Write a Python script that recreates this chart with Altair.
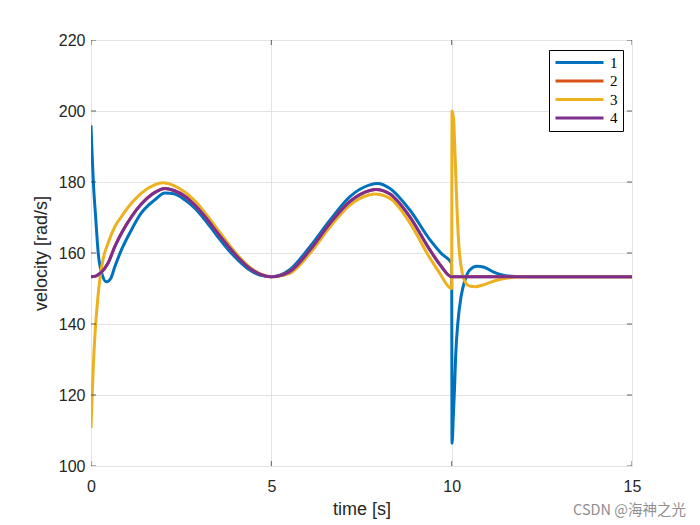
import altair as alt
import pandas as pd

# ---------------- data ----------------
series_names = ["1", "2", "3", "4"]
series_colors = ["#0072BD", "#D95319", "#EDB120", "#7E2F8E"]

t1 = [0, 0.03, 0.065, 0.13, 0.2, 0.3, 0.43, 0.55, 0.66, 0.84, 1.12, 1.39, 1.76, 2.05,
      2.3, 2.6, 2.9, 3.2, 3.5, 3.8, 4.1, 4.4, 4.7, 5.0, 5.5, 6.07, 6.63, 7.18, 7.73,
      7.95, 8.29, 8.84, 9.4, 9.7, 10.0, 10.01, 10.05, 10.08, 10.11, 10.17, 10.26,
      10.37, 10.5, 10.7, 10.9, 11.15, 11.5, 12.0, 13.0, 15.0]
v1 = [196, 188, 180, 170, 160, 154.2, 151.9, 152.9, 156.1, 160.8, 166.5, 171.2, 174.9, 176.9,
      176.7, 175.0, 172.4, 168.8, 164.8, 161.0, 157.8, 155.2, 153.7, 153.3, 155.2, 161.8,
      169.3, 175.9, 179.2, 179.6, 178.2, 172.1, 163.7, 160.0, 157.0, 106.4, 115.0, 122.0,
      130.8, 140.2, 147.7, 152.4, 155.2, 156.3, 156.0, 154.7, 153.6, 153.3, 153.3, 153.3]

t2 = [0, 0.13, 0.26, 0.47, 0.66, 0.84, 1.12, 1.39, 1.76, 2.05, 2.3, 2.6, 2.9, 3.2, 3.5,
      3.8, 4.1, 4.4, 4.7, 5.0, 5.5, 6.07, 6.63, 7.18, 7.73, 7.9, 8.29, 8.84, 9.4, 9.7,
      10.0, 11.0, 12.0, 13.0, 14.0, 15.0]
v2 = [153.3, 153.5, 154.3, 157.1, 161.8, 165.5, 170.2, 173.7, 177.0, 178.2, 177.6, 176.0,
      173.3, 169.8, 165.8, 162.0, 158.5, 155.7, 154.0, 153.3, 154.7, 160.8, 168.4, 174.5,
      177.6, 177.9, 176.6, 170.2, 160.8, 156.4, 153.3, 153.3, 153.3, 153.3, 153.3, 153.3]

t3 = [0, 0.03, 0.064, 0.11, 0.157, 0.2, 0.25, 0.34, 0.47, 0.66, 0.84, 1.12, 1.39, 1.76,
      2.0, 2.3, 2.6, 2.9, 3.2, 3.5, 3.8, 4.1, 4.4, 4.7, 5.0, 5.5, 6.07, 6.63, 7.18, 7.73,
      7.85, 8.29, 8.84, 9.4, 9.7, 9.85, 10.0, 10.01, 10.05, 10.1, 10.15, 10.2, 10.25,
      10.3, 10.4, 10.5, 10.65, 10.9, 11.2, 11.5, 12.0, 13.0, 15.0]
v3 = [110.7, 119.0, 128.0, 137.0, 143.5, 148.5, 153.0, 158.5, 162.7, 167.4, 170.2, 174.0,
      176.8, 179.2, 179.8, 179.0, 177.2, 174.5, 170.8, 166.8, 162.7, 159.0, 156.0, 154.1,
      153.3, 154.2, 159.9, 167.4, 173.5, 176.4, 176.6, 175.4, 168.5, 158.5, 153.8, 151.3,
      150.0, 200.0, 198.0, 186.0, 172.0, 162.0, 157.0, 154.0, 151.4, 150.7, 150.5, 151.1,
      152.2, 152.9, 153.3, 153.3, 153.3]

t4 = [0, 0.13, 0.26, 0.47, 0.66, 0.84, 1.12, 1.39, 1.76, 2.05, 2.3, 2.6, 2.9, 3.2, 3.5,
      3.8, 4.1, 4.4, 4.7, 5.0, 5.5, 6.07, 6.63, 7.18, 7.73, 7.9, 8.29, 8.84, 9.4, 9.7,
      10.0, 11.0, 12.0, 13.0, 14.0, 15.0]
v4 = [153.3, 153.5, 154.3, 157.1, 161.8, 165.5, 170.2, 173.7, 177.0, 178.2, 177.6, 176.0,
      173.3, 169.8, 165.8, 162.0, 158.5, 155.7, 154.0, 153.3, 154.7, 160.8, 168.4, 174.5,
      177.6, 177.9, 176.6, 170.2, 160.8, 156.4, 153.3, 153.3, 153.3, 153.3, 153.3, 153.3]

x_ticks = [0, 5, 10, 15]
y_ticks = [100, 120, 140, 160, 180, 200, 220]
watermark = ["CSDN @海神之光"]

# ---------------- build table ----------------
rows = []
for name, ts, vs in zip(series_names, [t1, t2, t3, t4], [v1, v2, v3, v4]):
    for i, (t, v) in enumerate(zip(ts, vs)):
        rows.append({"t": t, "v": v, "series": name, "idx": i})
df = pd.DataFrame(rows)

AX = "#262626"
GRID = "#e3e3e3"
FONT = "Liberation Sans"

x_scale = alt.Scale(domain=[0, 15], nice=False, zero=False)
y_scale = alt.Scale(domain=[100, 220], nice=False, zero=False)

lines = alt.Chart(df).mark_line(strokeWidth=3, interpolate="monotone", clip=True).encode(
    x=alt.X("t:Q", scale=x_scale,
            axis=alt.Axis(title="time [s]", values=x_ticks, grid=True, gridColor=GRID,
                          domain=False, ticks=False, labelFlush=False, labelPadding=12,
                          labelFont=FONT, labelFontSize=16, labelColor=AX,
                          titleFont=FONT, titleFontSize=18, titleFontWeight="normal",
                          titleColor=AX, titlePadding=6)),
    y=alt.Y("v:Q", scale=y_scale,
            axis=alt.Axis(title="velocity [rad/s]", values=y_ticks, grid=True, gridColor=GRID,
                          domain=False, ticks=False, labelFlush=False, labelPadding=6,
                          labelFont=FONT, labelFontSize=16, labelColor=AX,
                          titleFont=FONT, titleFontSize=18, titleFontWeight="normal",
                          titleColor=AX, titlePadding=8)),
    color=alt.Color("series:N",
                    scale=alt.Scale(domain=series_names, range=series_colors),
                    legend=alt.Legend(title=None, orient="none", legendX=458, legendY=10,
                                      direction="vertical",
                                      symbolType="M-1,0H7", symbolSize=144,
                                      symbolStrokeWidth=3,
                                      labelFont="Liberation Serif", labelFontSize=15,
                                      labelColor="black", labelOffset=41,
                                      strokeColor="black", fillColor="white",
                                      padding=5, rowPadding=2.5)),
    order=alt.Order("idx:Q"),
)

xt = pd.DataFrame({"t": x_ticks})
yt = pd.DataFrame({"v": y_ticks})

tick_style = dict(size=10, thickness=1, color=AX, clip=True)
left_ticks = alt.Chart(yt).mark_tick(orient="horizontal", **tick_style).encode(
    x=alt.datum(0), y=alt.Y("v:Q"))
right_ticks = alt.Chart(yt).mark_tick(orient="horizontal", **tick_style).encode(
    x=alt.datum(15), y=alt.Y("v:Q"))
bottom_ticks = alt.Chart(xt).mark_tick(orient="vertical", **tick_style).encode(
    x=alt.X("t:Q"), y=alt.datum(100))
top_ticks = alt.Chart(xt).mark_tick(orient="vertical", **tick_style).encode(
    x=alt.X("t:Q"), y=alt.datum(220))

wm = alt.Chart(pd.DataFrame({"s": watermark})).mark_text(
    align="right", baseline="alphabetic", font="Noto Sans CJK SC", fontSize=14.5,
    color="#8f8f8f").encode(text="s:N", x=alt.value(595), y=alt.value(475))

chart = alt.layer(lines, left_ticks, right_ticks, bottom_ticks, top_ticks, wm).properties(
    width=541, height=426,
    autosize=alt.AutoSizeParams(type="none"),
    padding={"left": 91, "top": 40, "right": 68, "bottom": 59},
).configure_view(stroke=AX, strokeWidth=1).configure(background="white")

chart.save("out.html", embed_options={"renderer": "svg", "actions": False})
